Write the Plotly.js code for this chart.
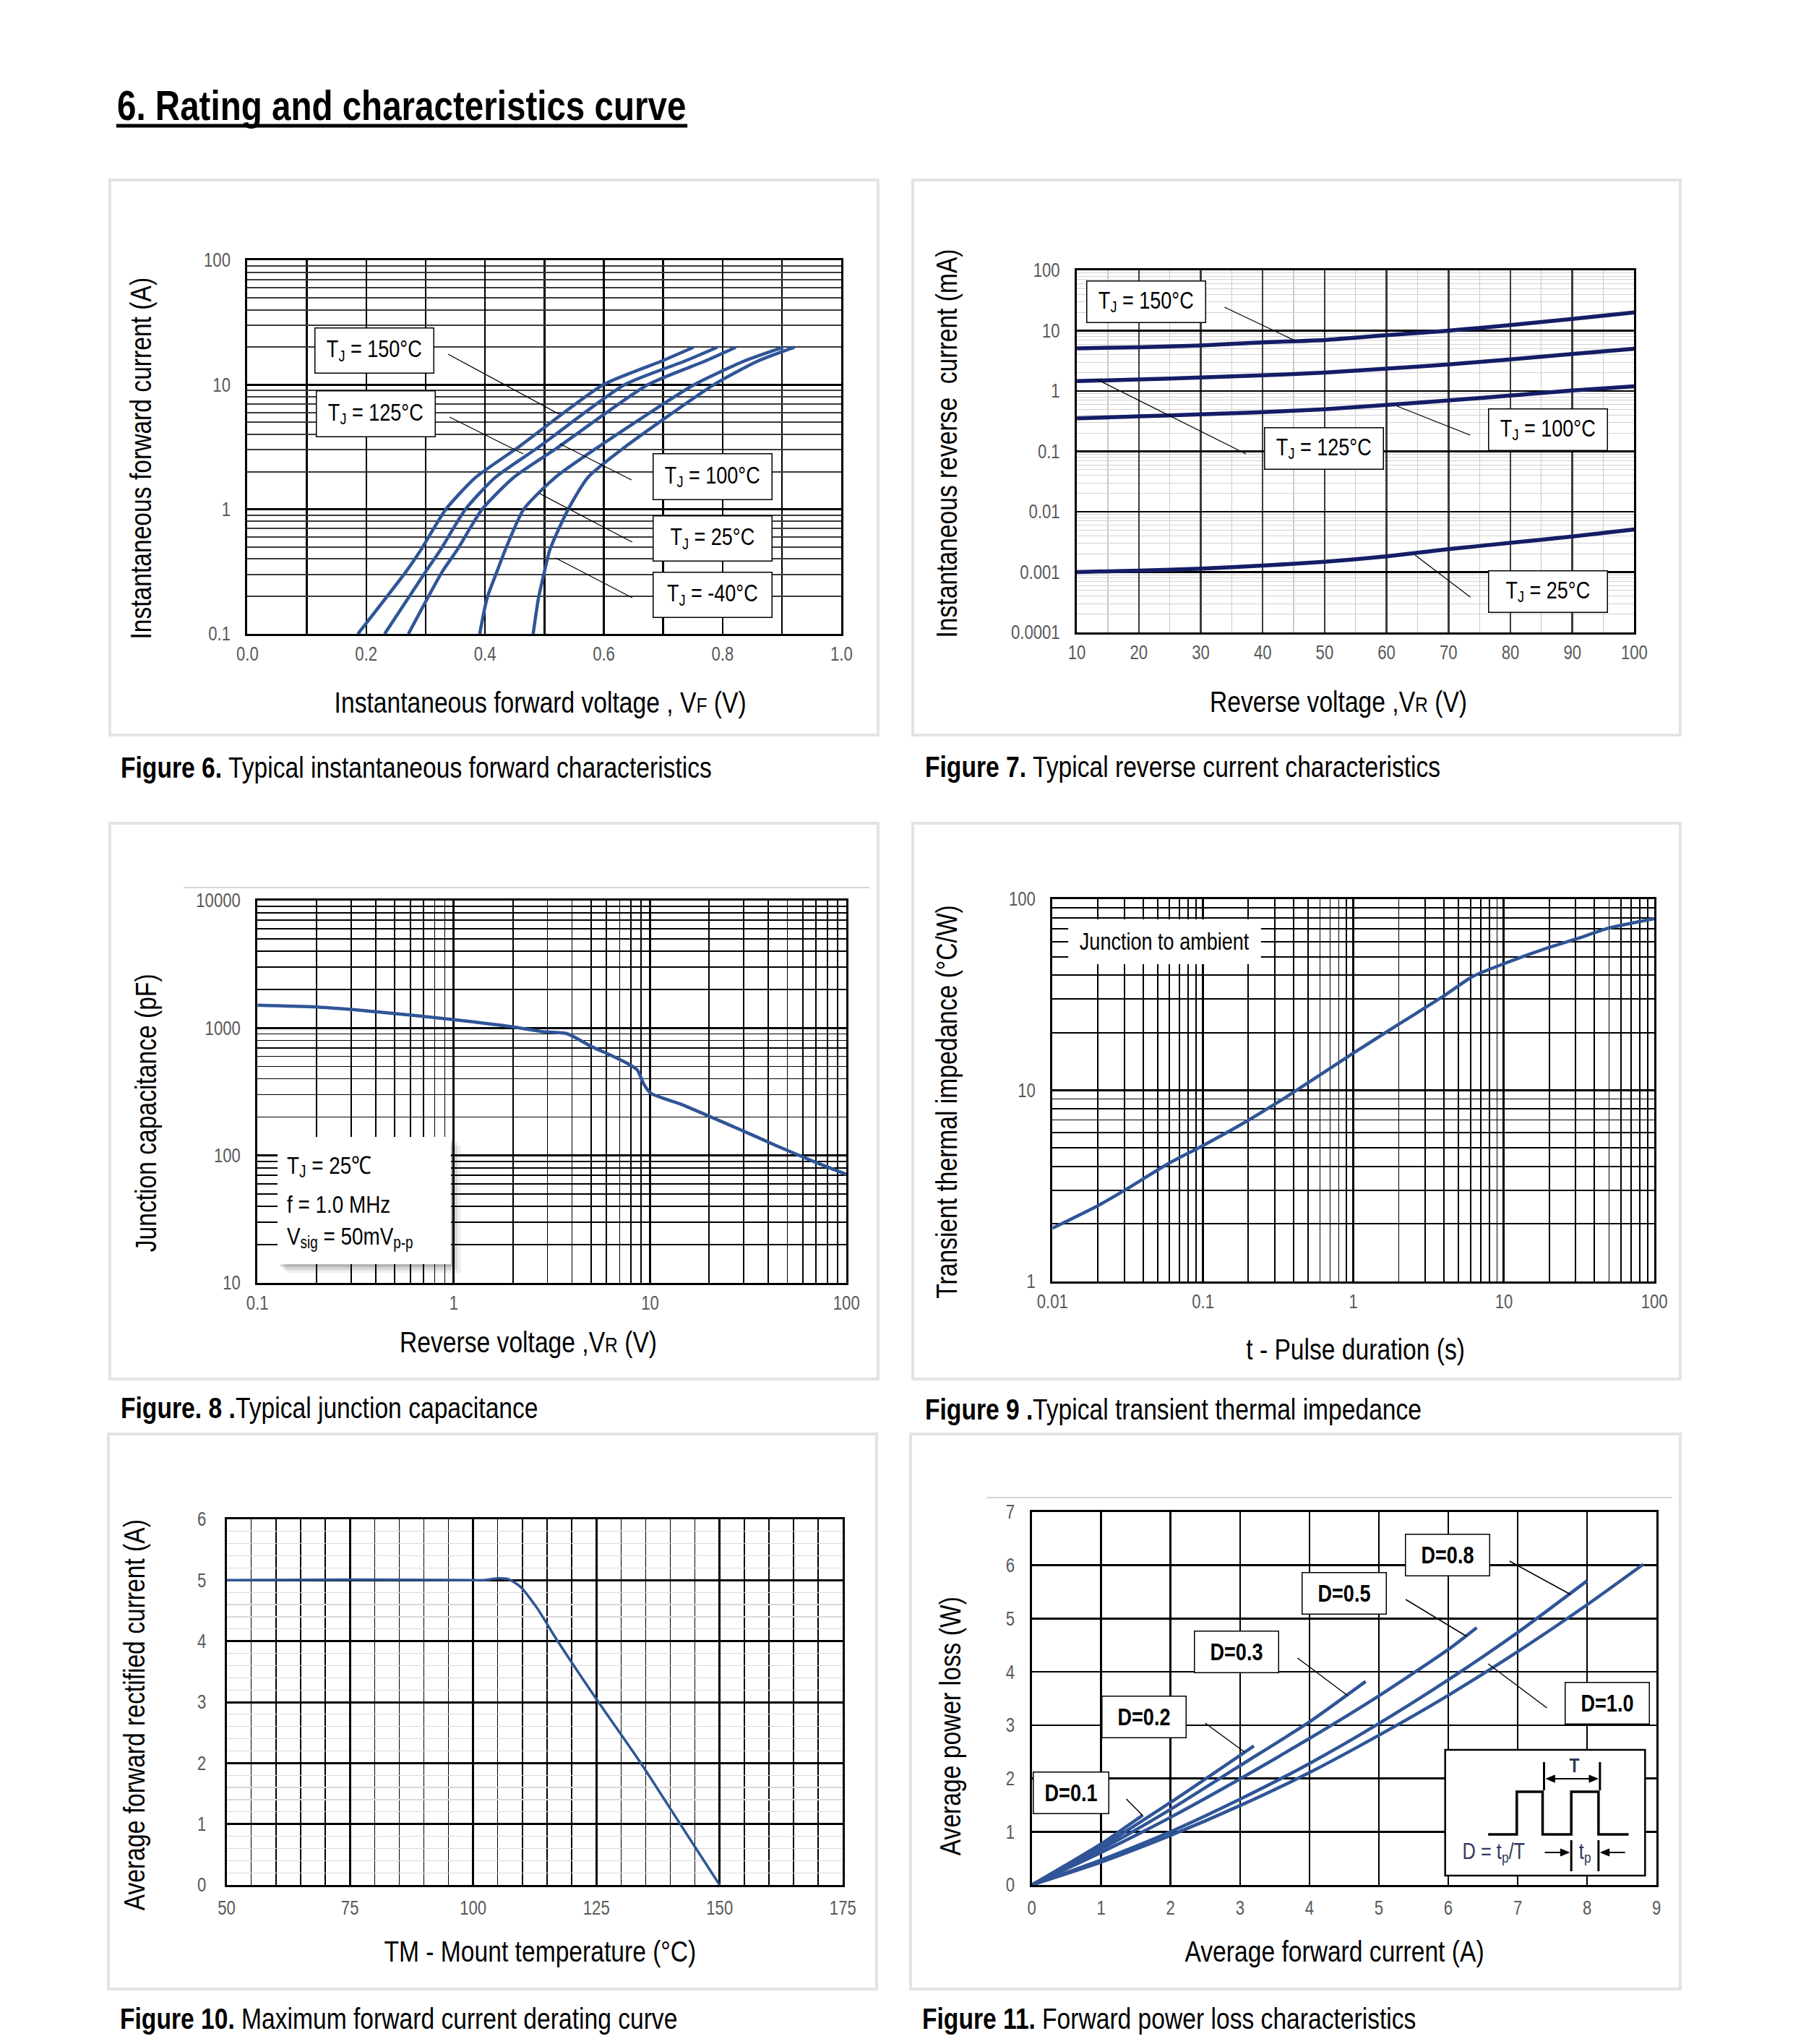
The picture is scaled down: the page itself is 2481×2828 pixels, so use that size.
<!DOCTYPE html>
<html><head><meta charset="utf-8">
<script src="https://cdn.plot.ly/plotly-3.0.1.min.js"></script>
<style>html,body{margin:0;padding:0;background:#fff}#chart{width:2481px;height:2828px}</style>
</head><body><div id="chart"></div>
<script>
// ================= DATA =================
// Figure 6 : forward characteristics (V, A)
const f6_150_v = [0.186,0.267,0.292,0.334,0.384,0.456,0.599,0.696,0.751];
const f6_150_i = [0.1,0.316,0.472,1,1.8,3.15,10,15.4,20];
const f6_125_v = [0.231,0.300,0.325,0.367,0.417,0.490,0.635,0.735,0.791];
const f6_125_i = [0.1,0.316,0.472,1,1.8,3.15,10,15.4,20];
const f6_100_v = [0.271,0.328,0.353,0.395,0.448,0.523,0.674,0.769,0.822];
const f6_100_i = [0.1,0.316,0.472,1,1.8,3.15,10,15.4,20];
const f6_25_v  = [0.391,0.4035,0.420,0.434,0.465,0.518,0.590,0.752,0.835,0.902];
const f6_25_i  = [0.1,0.194,0.316,0.472,1,1.8,3.15,10,15.4,20];
const f6_m40_v = [0.481,0.490,0.500,0.509,0.540,0.573,0.635,0.785,0.858,0.921];
const f6_m40_i = [0.1,0.194,0.316,0.472,1,1.8,3.15,10,15.4,20];
const f6_xtick = [0,0.2,0.4,0.6,0.8,1.0];
const f6_xtext = ['0.0','0.2','0.4','0.6','0.8','1.0'];
const f6_ytick = [0.1,1,10,100];
const f6_ytext = ['0.1','1','10','100'];

// Figure 7 : reverse current (V, mA)
const f7_vr   = [10,20,30,40,50,60,70,80,90,100];
const f7_150  = [5.1,5.3,5.7,6.4,7.0,8.4,10.0,12.4,15.7,20.1];
const f7_125  = [1.46,1.55,1.68,1.82,2.02,2.35,2.76,3.34,4.11,5.02];
const f7_100  = [0.352,0.38,0.41,0.447,0.50,0.587,0.697,0.843,1.02,1.2];
const f7_25   = [0.0010,0.00106,0.00114,0.00128,0.00148,0.00182,0.0024,0.00305,0.0039,0.0051];
const f7_xtick = [10,20,30,40,50,60,70,80,90,100];
const f7_xtext = ['10','20','30','40','50','60','70','80','90','100'];
const f7_ytick = [0.0001,0.001,0.01,0.1,1,10,100];
const f7_ytext = ['0.0001','0.001','0.01','0.1','1','10','100'];

// Figure 8 : junction capacitance (V, pF)
const f8_vr = [0.1,0.2,0.4,1,2,2.8,3.76,5.04,6.36,7.57,8.6,9.3,10.1,14.4,19.3,30,43.6,69,100];
const f8_cj = [1510,1460,1343,1164,1021,939,905,714,608,533,469,361,307,252,208,155,120,89,71];
const f8_xtick = [0.1,1,10,100];
const f8_xtext = ['0.1','1','10','100'];
const f8_ytick = [10,100,1000,10000];
const f8_ytext = ['10','100','1000','10000'];

// Figure 9 : transient thermal impedance (s, °C/W)
const f9_t  = [0.01,0.02,0.03,0.059,0.1,0.2,0.39,0.98,1.97,3.97,6.2,9.9,19.7,30.7,48.6,100];
const f9_z  = [1.90,2.49,2.99,4.14,5.14,6.97,9.64,15.5,22.0,31.1,39.4,45.8,55.7,62.1,70.2,79.1];
const f9_xtick = [0.01,0.1,1,10,100];
const f9_xtext = ['0.01','0.1','1','10','100'];
const f9_ytick = [1,10,100];
const f9_ytext = ['1','10','100'];

// Figure 10 : derating (°C, A)
const f10_tm = [50,75,100,102,105,107,109,110,113,117,125,134,142,150];
const f10_if = [5.0,5.01,5.0,5.0,5.03,5.02,4.93,4.86,4.54,4.02,3.05,2.0,1.0,0];
const f10_xtick = [50,75,100,125,150,175];
const f10_xtext = ['50','75','100','125','150','175'];
const f10_ytick = [0,1,2,3,4,5,6];
const f10_ytext = ['0','1','2','3','4','5','6'];

// Figure 11 : power loss (A, W)
const f11_d01_i = [0,0.5,1,1.6];            const f11_d01_p = [0,0.38,0.77,1.31];
const f11_d02_i = [0,1,2,3.2];              const f11_d02_p = [0,0.72,1.55,2.61];
const f11_d03_i = [0,1,2,3,4,4.81];         const f11_d03_p = [0,0.67,1.42,2.24,3.06,3.82];
const f11_d05_i = [0,1,2,3,4,5,6,6.41];     const f11_d05_p = [0,0.61,1.27,1.99,2.75,3.55,4.42,4.83];
const f11_d08_i = [0,1,2,3,4,5,6,7,8];      const f11_d08_p = [0,0.47,1.0,1.61,2.28,3.03,3.85,4.74,5.71];
const f11_d10_i = [0,1,2,3,4,5,6,7,8,8.81]; const f11_d10_p = [0,0.43,0.93,1.49,2.11,2.81,3.56,4.38,5.26,6.02];
const f11_xtick = [0,1,2,3,4,5,6,7,8,9];
const f11_xtext = ['0','1','2','3','4','5','6','7','8','9'];
const f11_ytick = [0,1,2,3,4,5,6,7];
const f11_ytext = ['0','1','2','3','4','5','6','7'];

// ================= STYLE / LAYOUT =================
const W = 2481, H = 2828;
const FN = '"Liberation Sans Narrow", "Arial Narrow", "Liberation Sans", Arial, sans-serif';
const TICKF = {family: FN, size: 27, color: '#595959'};
const BLUE = '#2f5597', NAVY = '#151d66';
const NARROW = 0.82;   // horizontal condensing of all texts (Arial Narrow look)

// small horizontal correction of measured page positions
function cx(x) { return x < 1245 ? x - (x - 152) * 0.0085 : x - 2 - (x - 1265) * 0.0085; }
const X = v => cx(v) / W, Y = v => 1 - v / H;

function logMinor(d0, d1) { const a = []; for (let d = d0; d < d1; d++) for (let k = 2; k <= 9; k++) a.push(k * Math.pow(10, d)); return a; }

function xax(P, anchor, sd, o) {
  return Object.assign({domain: [X(P.L), X(P.R)], anchor: anchor, showline: true, mirror: true, linecolor: '#000', linewidth: 3,
    zeroline: false, ticks: '', tickfont: TICKF, tickmode: 'array', ticklabelstandoff: sd, fixedrange: true, layer: 'above traces'}, o);
}
function yax(P, anchor, sd, o) {
  return Object.assign({domain: [1 - P.B / H, 1 - P.T / H], anchor: anchor, showline: true, mirror: true, linecolor: '#000', linewidth: 3,
    zeroline: false, ticks: '', tickfont: TICKF, tickmode: 'array', ticklabelstandoff: sd, fixedrange: true, layer: 'above traces'}, o);
}

const P6 = {L: 344, R: 1173, T: 360, B: 877};
const P7 = {L: 1494, R: 2272, T: 374, B: 875};
const P8 = {L: 358, R: 1180, T: 1246, B: 1775};
const P9 = {L: 1460, R: 2300, T: 1244, B: 1773};
const P10 = {L: 315, R: 1175, T: 2102, B: 2608};
const P11 = {L: 1431, R: 2303, T: 2092, B: 2608};

const layout = {
  width: W, height: H, margin: {l: 0, r: 0, t: 0, b: 0}, paper_bgcolor: '#fff', plot_bgcolor: '#fff', showlegend: false,
  font: {family: FN},
  xaxis: xax(P6, 'y', 2, {range: [0, 1], tickvals: f6_xtick, ticktext: f6_xtext, showgrid: true, gridcolor: '#000', gridwidth: 2.5,
    minor: {dtick: 0.1, tick0: 0, showgrid: true, gridcolor: '#000', gridwidth: 2.5}}),
  yaxis: yax(P6, 'x', 15, {type: 'log', range: [-1, 2], tickvals: f6_ytick, ticktext: f6_ytext, showgrid: true, gridcolor: '#000', gridwidth: 3,
    minor: {tickmode: 'array', tickvals: logMinor(-1, 2), showgrid: true, gridcolor: '#3a3a3a', gridwidth: 2}}),
  xaxis2: xax(P7, 'y2', 2, {range: [10, 100], tickvals: f7_xtick, ticktext: f7_xtext, showgrid: true, gridcolor: '#3c3c3c', gridwidth: 2.5,
    minor: {dtick: 5, tick0: 0, showgrid: true, gridcolor: '#c9c9c9', gridwidth: 1.2}}),
  yaxis2: yax(P7, 'x2', 15, {type: 'log', range: [-4, 2], tickvals: f7_ytick, ticktext: f7_ytext, showgrid: true, gridcolor: '#000', gridwidth: 2.5,
    minor: {tickmode: 'array', tickvals: logMinor(-4, 2), showgrid: true, gridcolor: '#d2d2d2', gridwidth: 1}}),
  xaxis3: xax(P8, 'y3', 2, {type: 'log', range: [-1, 2], tickvals: f8_xtick, ticktext: f8_xtext, showgrid: true, gridcolor: '#000', gridwidth: 3,
    minor: {tickmode: 'array', tickvals: logMinor(-1, 2), showgrid: true, gridcolor: '#000', gridwidth: 1.8}}),
  yaxis3: yax(P8, 'x3', 15, {type: 'log', range: [1, 4], tickvals: f8_ytick, ticktext: f8_ytext, showgrid: true, gridcolor: '#000', gridwidth: 3,
    minor: {tickmode: 'array', tickvals: logMinor(1, 4), showgrid: true, gridcolor: '#000', gridwidth: 1.8}}),
  xaxis4: xax(P9, 'y4', 2, {type: 'log', range: [-2, 2], tickvals: f9_xtick, ticktext: f9_xtext, showgrid: true, gridcolor: '#000', gridwidth: 3,
    minor: {tickmode: 'array', tickvals: logMinor(-2, 2), showgrid: true, gridcolor: '#000', gridwidth: 1.8}}),
  yaxis4: yax(P9, 'x4', 15, {type: 'log', range: [0, 2], tickvals: f9_ytick, ticktext: f9_ytext, showgrid: true, gridcolor: '#000', gridwidth: 3,
    minor: {tickmode: 'array', tickvals: logMinor(0, 2), showgrid: true, gridcolor: '#000', gridwidth: 1.8}}),
  xaxis5: xax(P10, 'y5', 6, {range: [50, 175], tickvals: f10_xtick, ticktext: f10_xtext, showgrid: true, gridcolor: '#000', gridwidth: 3,
    minor: {dtick: 5, tick0: 0, showgrid: true, gridcolor: '#000', gridwidth: 1.4}}),
  yaxis5: yax(P10, 'x5', 20, {range: [0, 6], tickvals: f10_ytick, ticktext: f10_ytext, showgrid: true, gridcolor: '#000', gridwidth: 3,
    minor: {dtick: 0.2, tick0: 0, showgrid: true, gridcolor: '#d9d9d9', gridwidth: 1.2}}),
  xaxis6: xax(P11, 'y6', 6, {range: [0, 9], tickvals: f11_xtick, ticktext: f11_xtext, showgrid: true, gridcolor: '#000', gridwidth: 2.5}),
  yaxis6: yax(P11, 'x6', 15, {range: [0, 7], tickvals: f11_ytick, ticktext: f11_ytext, showgrid: true, gridcolor: '#000', gridwidth: 2.5}),
};

// ================= TRACES =================
function tr(x, y, xa, ya, color, w) {
  return {type: 'scatter', mode: 'lines', x: x, y: y, xaxis: xa, yaxis: ya, hoverinfo: 'skip',
    line: {color: color, width: w, shape: 'spline', smoothing: 0.6}};
}
const data = [
  tr(f6_150_v, f6_150_i, 'x', 'y', BLUE, 4.5),
  tr(f6_125_v, f6_125_i, 'x', 'y', BLUE, 4.5),
  tr(f6_100_v, f6_100_i, 'x', 'y', BLUE, 4.5),
  tr(f6_25_v, f6_25_i, 'x', 'y', BLUE, 4.5),
  tr(f6_m40_v, f6_m40_i, 'x', 'y', BLUE, 4.5),
  tr(f7_vr, f7_150, 'x2', 'y2', NAVY, 5.5),
  tr(f7_vr, f7_125, 'x2', 'y2', NAVY, 5.5),
  tr(f7_vr, f7_100, 'x2', 'y2', NAVY, 5.5),
  tr(f7_vr, f7_25, 'x2', 'y2', NAVY, 5.5),
  tr(f8_vr, f8_cj, 'x3', 'y3', BLUE, 4.5),
  tr(f9_t, f9_z, 'x4', 'y4', BLUE, 4.5),
  tr(f10_tm, f10_if, 'x5', 'y5', BLUE, 3.5),
  tr(f11_d01_i, f11_d01_p, 'x6', 'y6', BLUE, 4.5),
  tr(f11_d02_i, f11_d02_p, 'x6', 'y6', BLUE, 4.5),
  tr(f11_d03_i, f11_d03_p, 'x6', 'y6', BLUE, 4.5),
  tr(f11_d05_i, f11_d05_p, 'x6', 'y6', BLUE, 4.5),
  tr(f11_d08_i, f11_d08_p, 'x6', 'y6', BLUE, 4.5),
  tr(f11_d10_i, f11_d10_p, 'x6', 'y6', BLUE, 4.5),
];

// ================= SHAPES =================
function ln(x0, y0, x1, y1, color, width, layer) {
  return {type: 'line', xref: 'paper', yref: 'paper', x0: X(x0), y0: Y(y0), x1: X(x1), y1: Y(y1), line: {color: color, width: width}, layer: layer || 'above'};
}
function rc(x0, y0, x1, y1, fill, lc, lw, layer) {
  return {type: 'rect', xref: 'paper', yref: 'paper', x0: X(x0), y0: Y(y0), x1: X(x1), y1: Y(y1), fillcolor: fill,
    line: {color: lc || 'rgba(0,0,0,0)', width: lw || 0}, layer: layer || 'above'};
}
function pth(pts, closed, fill, lc, lw) {
  let s = pts.map((p, i) => (i ? 'L' : 'M') + X(p[0]).toFixed(6) + ',' + Y(p[1]).toFixed(6)).join(' ');
  if (closed) s += ' Z';
  return {type: 'path', xref: 'paper', yref: 'paper', path: s, fillcolor: fill || 'rgba(0,0,0,0)', line: {color: lc || '#000', width: lw || 0}, layer: 'above'};
}
const FR = '#e3e3e3';
const shapes = [
  rc(152, 249, 1224, 1017, 'rgba(0,0,0,0)', FR, 4, 'below'),
  rc(1265, 249, 2336, 1017, 'rgba(0,0,0,0)', FR, 4, 'below'),
  rc(152, 1139, 1224, 1908, 'rgba(0,0,0,0)', FR, 4, 'below'),
  rc(1265, 1139, 2336, 1908, 'rgba(0,0,0,0)', FR, 4, 'below'),
  rc(150, 1984, 1222, 2752, 'rgba(0,0,0,0)', FR, 4, 'below'),
  rc(1262, 1984, 2336, 2752, 'rgba(0,0,0,0)', FR, 4, 'below'),
  ln(161, 174, 958, 174, '#000', 5),
  ln(255, 1228, 1212, 1228, '#c8c8c8', 1.5),
  ln(1368, 2072, 2325, 2072, '#c8c8c8', 1.5),
  // fig 6 leaders
  ln(624, 490, 779, 573, '#000', 1.3),
  ln(626, 577, 729, 628, '#000', 1.3),
  ln(780, 614, 880, 664, '#000', 1.3),
  ln(752, 683, 881, 750, '#000', 1.3),
  ln(774, 772, 881, 827, '#000', 1.3),
  // fig 7 leaders
  ln(1700, 425, 1800, 472, '#000', 1.3),
  ln(1522, 525, 1730, 628, '#000', 1.3),
  ln(1941, 562, 2043, 602, '#000', 1.3),
  ln(1966, 768, 2043, 826, '#000', 1.3),
  // fig 8 info box with shadow
  rc(398, 1585, 642, 1761, 'rgba(0,0,0,0.07)'),
  rc(394, 1581, 637, 1757, 'rgba(0,0,0,0.10)'),
  rc(390, 1577, 632, 1753, 'rgba(0,0,0,0.14)'),
  rc(386, 1573, 628, 1749, '#ffffff'),
  // fig 9 label background
  rc(1482, 1272, 1751, 1334, '#ffffff'),
  // fig 11 leaders
  ln(1563, 2489, 1586, 2512, '#000', 1.5),
  ln(1673, 2384, 1728, 2424, '#000', 1.5),
  ln(1802, 2294, 1872, 2346, '#000', 1.5),
  ln(1953, 2213, 2038, 2264, '#000', 1.5),
  ln(2098, 2160, 2183, 2206, '#000', 1.5),
  ln(2068, 2302, 2150, 2363, '#000', 1.5),
  // fig 11 inset
  rc(2008, 2421, 2287, 2595, '#ffffff', '#000', 2.5),
  pth([[2068, 2538], [2108, 2538], [2108, 2479], [2144, 2479], [2144, 2538], [2184, 2538], [2184, 2479], [2222, 2479], [2222, 2538], [2264, 2538]], false, null, '#000', 3.5),
  ln(2146, 2438, 2146, 2477, '#000', 3),
  ln(2224, 2438, 2224, 2477, '#000', 3),
  ln(2156, 2461, 2214, 2461, '#000', 2),
  pth([[2149, 2461], [2161, 2456], [2161, 2466]], true, '#000', '#000', 1),
  pth([[2221, 2461], [2209, 2456], [2209, 2466]], true, '#000', '#000', 1),
  ln(2184, 2546, 2184, 2589, '#000', 3),
  ln(2222, 2546, 2222, 2589, '#000', 3),
  ln(2147, 2563, 2172, 2563, '#000', 2),
  pth([[2181, 2563], [2169, 2558], [2169, 2568]], true, '#000', '#000', 1),
  ln(2235, 2563, 2259, 2563, '#000', 2),
  pth([[2225, 2563], [2237, 2558], [2237, 2568]], true, '#000', '#000', 1),
];
layout.shapes = shapes;

// ================= ANNOTATIONS =================
const mctx = document.createElement('canvas').getContext('2d');
function textW(t, size, bold) { mctx.font = (bold ? 'bold ' : '') + size + 'px "Liberation Sans", Arial, sans-serif'; return mctx.measureText(t).width * NARROW; }

function F(size, o) { return Object.assign({family: FN, size: size, color: '#000'}, o || {}); }
function tx(x, y, text, size, o) {
  return Object.assign({xref: 'paper', yref: 'paper', x: X(x), y: Y(y), text: text, showarrow: false, xanchor: 'center', yanchor: 'middle',
    borderpad: 0, font: F(size)}, o || {});
}
function txl(x, y, text, size, o) { return tx(x, y, text, size, Object.assign({xanchor: 'left', align: 'left'}, o || {})); }
function bx(x0, y0, x1, y1, text, size, bold) {
  return {xref: 'paper', yref: 'paper', x: X((x0 + x1) / 2), y: Y((y0 + y1) / 2), xanchor: 'center', yanchor: 'middle', text: text, showarrow: false,
    bgcolor: '#fff', bordercolor: '#000', borderwidth: 1.5, borderpad: 0, width: (cx(x1) - cx(x0)) - 3, height: y1 - y0 - 3,
    font: F(size, bold ? {weight: 'bold'} : {})};
}
// caption = bold prefix + regular rest, as two pieces placed side by side
function cap(x, y, bold, rest, size) {
  const wb = textW(bold, size, true);
  const a = txl(x, y, bold, size, {font: F(size, {weight: 'bold'})});
  const b = txl(x, y, rest, size);
  b.x = (cx(x) + wb) / W;
  return [a, b];
}
const SB = (t, s, d) => '<span style="font-size:' + s + 'px;baseline-shift:-' + d + 'px">' + t + '</span>';
const TJ = 'T' + SB('J', 22, 6) + ' = ';
const INK = '#2e3a5c';
const ann = [].concat(
  [txl(161, 146, '6. Rating and characteristics curve', 58, {font: F(58, {weight: 'bold'})})],
  cap(166, 1062, 'Figure 6. ', 'Typical instantaneous forward characteristics', 41),
  cap(1281, 1061, 'Figure 7. ', 'Typical reverse current characteristics', 41),
  cap(166, 1948, 'Figure. 8 .', 'Typical junction capacitance', 41),
  cap(1281, 1950, 'Figure 9 .', 'Typical transient thermal impedance', 41),
  cap(165, 2793, 'Figure 10. ', 'Maximum forward current derating curve', 41),
  cap(1277, 2793, 'Figure 11. ', 'Forward power loss characteristics', 41),
  [
    // y-axis titles
    tx(195, 634, 'Instantaneous forward current (A)', 41, {textangle: -90}),
    tx(1312, 614, 'Instantaneous reverse  current (mA)', 41, {textangle: -90}),
    tx(202, 1540, 'Junction capacitance (pF)', 41, {textangle: -90}),
    tx(1312, 1525, 'Transient thermal impedance (°C/W)', 41, {textangle: -90}),
    tx(186, 2373, 'Average forward rectified current (A)', 41, {textangle: -90}),
    tx(1317, 2388, 'Average power loss (W)', 41, {textangle: -90}),
    // x-axis titles
    tx(753, 972, 'Instantaneous forward voltage , V<span style="font-size:30px">F</span> (V)', 41),
    tx(1859, 971, 'Reverse voltage ,V<span style="font-size:30px">R</span> (V)', 41),
    tx(736, 1857, 'Reverse voltage ,V<span style="font-size:30px">R</span> (V)', 41),
    tx(1883, 1867, 't - Pulse duration (s)', 41),
    tx(753, 2700, 'TM - Mount temperature (°C)', 41),
    tx(1854, 2700, 'Average forward current (A)', 41),
    // fig 6 labels
    bx(438, 453, 605, 517, TJ + '150°C', 33),
    bx(440, 540, 607, 605, TJ + '125°C', 33),
    bx(910, 627, 1077, 692, TJ + '100°C', 33),
    bx(910, 713, 1077, 777, TJ + '25°C', 33),
    bx(910, 791, 1077, 855, TJ + '-40°C', 33),
    // fig 7 labels
    bx(1507, 388, 1674, 447, TJ + '150°C', 33),
    bx(1755, 591, 1922, 650, TJ + '125°C', 33),
    bx(2068, 565, 2235, 624, TJ + '100°C', 33),
    bx(2068, 789, 2235, 848, TJ + '25°C', 33),
    // fig 8 box text
    txl(398, 1614, 'T' + SB('J', 23, 6) + ' = 25℃', 34),
    txl(398, 1666, 'f = 1.0 MHz', 34),
    txl(398, 1712, 'V' + SB('sig', 23, 6) + ' = 50mV' + SB('p-p', 23, 6), 34),
    // fig 9 label
    tx(1616, 1302, 'Junction to ambient', 33),
    // fig 11 labels
    bx(1432, 2451, 1539, 2510, 'D=0.1', 33, true),
    bx(1528, 2346, 1647, 2405, 'D=0.2', 33, true),
    bx(1657, 2256, 1776, 2315, 'D=0.3', 33, true),
    bx(1808, 2175, 1927, 2234, 'D=0.5', 33, true),
    bx(1952, 2122, 2071, 2181, 'D=0.8', 33, true),
    bx(2175, 2327, 2294, 2386, 'D=1.0', 33, true),
    // inset text
    tx(2188, 2442, 'T', 28, {font: F(28, {color: INK, weight: 'bold'})}),
    tx(2076, 2562, 'D = t' + SB('p', 21, 5) + '/T', 31, {font: F(31, {color: INK})}),
    tx(2203, 2562, 't' + SB('p', 21, 5), 31, {font: F(31, {color: INK})}),
  ]
);
layout.annotations = ann;

Plotly.newPlot('chart', data, layout, {displayModeBar: false, staticPlot: true}).then(function (gd) {
  // condense every text horizontally about its anchor point (Arial Narrow look)
  gd.querySelectorAll('text').forEach(function (t) {
    const ax = parseFloat(t.getAttribute('x')) || 0;
    const prev = t.getAttribute('transform') || '';
    t.setAttribute('transform', prev + ' translate(' + ax + ',0) scale(' + NARROW + ',1) translate(' + (-ax) + ',0)');
  });
});
</script></body></html>
